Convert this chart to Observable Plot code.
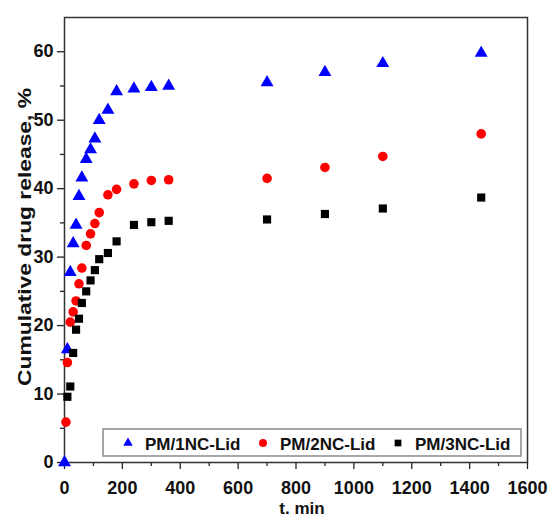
<!DOCTYPE html>
<html>
<head>
<meta charset="utf-8">
<script src="https://cdn.jsdelivr.net/npm/d3@7"></script>
<script src="https://cdn.jsdelivr.net/npm/@observablehq/plot@0.6"></script>
<style>
  html, body { margin: 0; padding: 0; background: #fff; }
  #chart { width: 550px; height: 518px; }
</style>
</head>
<body>
<div id="chart"></div>
<script>
// ---- data ----
const seriesNames = ["PM/1NC-Lid", "PM/2NC-Lid", "PM/3NC-Lid"];

const t1 = [0, 10, 20, 30, 40, 50, 60, 75, 90, 105, 120, 150, 180, 240, 300, 360, 700, 900, 1100, 1440];
const v1 = [0, 16.5, 27.8, 32.0, 34.7, 38.9, 41.6, 44.3, 45.7, 47.3, 50.0, 51.5, 54.2, 54.6, 54.8, 55.0, 55.5, 57.0, 58.3, 59.8];

const t2 = [5, 10, 20, 30, 40, 50, 60, 75, 90, 105, 120, 150, 180, 240, 300, 360, 700, 900, 1100, 1440];
const v2 = [5.9, 14.6, 20.5, 22.0, 23.6, 26.1, 28.4, 31.7, 33.4, 34.9, 36.5, 39.1, 39.9, 40.7, 41.2, 41.3, 41.5, 43.1, 44.7, 48.0];

const t3 = [10, 20, 30, 40, 50, 60, 75, 90, 105, 120, 150, 180, 240, 300, 360, 700, 900, 1100, 1440];
const v3 = [9.6, 11.1, 16.0, 19.4, 21.0, 23.3, 25.0, 26.6, 28.1, 29.7, 30.6, 32.3, 34.7, 35.1, 35.3, 35.5, 36.3, 37.1, 38.7];

const xMajorTicks = [0, 200, 400, 600, 800, 1000, 1200, 1400, 1600];
const xMinorTicks = [100, 300, 500, 700, 900, 1100, 1300, 1500];
const yMajorTicks = [0, 10, 20, 30, 40, 50, 60];
const yMinorTicks = [5, 15, 25, 35, 45, 55];

const xTitle = "t. min";
const yTitle = "Cumulative drug release, %";

// ---- build tables ----
const s1 = t1.map((t, i) => ({t, v: v1[i]}));
const s2 = t2.map((t, i) => ({t, v: v2[i]}));
const s3 = t3.map((t, i) => ({t, v: v3[i]}));

const colors = ["#0000ff", "#ff0000", "#000000"];
const symbols = ["triangle", "circle", "square"];
const font = "'Liberation Sans', Arial, Helvetica, sans-serif";

const chart = Plot.plot({
  width: 550,
  height: 518,
  marginLeft: 64,
  marginRight: 23,
  marginTop: 17,
  marginBottom: 56,
  style: {fontFamily: font, background: "#fff", color: "#111"},
  x: {domain: [0, 1600], label: null},
  y: {domain: [0, 65], label: null},
  marks: [
    Plot.axisX({ticks: xMinorTicks, tickSize: 4, text: null, stroke: "#222", strokeWidth: 1.3, label: null}),
    Plot.axisX({ticks: xMajorTicks, tickSize: 7, tickPadding: 12, tickFormat: d => String(d),
      fontSize: 18, fontWeight: "bold", stroke: "#222", strokeWidth: 1.3, label: null}),
    Plot.axisY({ticks: yMinorTicks, tickSize: 4, text: null, stroke: "#222", strokeWidth: 1.3, label: null}),
    Plot.axisY({ticks: yMajorTicks, tickSize: 7, tickPadding: 4, tickFormat: d => String(d),
      fontSize: 18, fontWeight: "bold", stroke: "#222", strokeWidth: 1.3, label: null}),
    Plot.frame({stroke: "#333", strokeWidth: 1.5}),
    Plot.dot(s1, {x: "t", y: "v", symbol: symbols[0], fill: colors[0], r: 4.8}),
    Plot.dot(s2, {x: "t", y: "v", symbol: symbols[1], fill: colors[1], r: 4.8}),
    Plot.dot(s3, {x: "t", y: "v", symbol: symbols[2], fill: colors[2], r: 4.6})
  ]
});

document.getElementById("chart").appendChild(chart);

// ---- titles and legend ----
const svg = d3.select(chart);
svg.append("text")
  .attr("x", 302).attr("y", 514)
  .attr("text-anchor", "middle")
  .style("font", `bold 17px ${font}`).attr("fill", "#111")
  .text(xTitle);

svg.append("text")
  .attr("transform", "translate(31,237) rotate(-90)")
  .attr("text-anchor", "middle")
  .attr("textLength", 298).attr("lengthAdjust", "spacingAndGlyphs")
  .style("font", `bold 19px ${font}`).attr("fill", "#111")
  .text(yTitle);

const lg = svg.append("g");
lg.append("rect")
  .attr("x", 103).attr("y", 429).attr("width", 418).attr("height", 27)
  .attr("fill", "#fff").attr("stroke", "#8a8a8a").attr("stroke-width", 1.5);

const legX = [128, 263, 398];
const d3sym = [d3.symbolTriangle, d3.symbolCircle, d3.symbolSquare];
const legSize = [40, 50, 45];
seriesNames.forEach((name, i) => {
  lg.append("path")
    .attr("transform", `translate(${legX[i]},${443})`)
    .attr("d", d3.symbol(d3sym[i], legSize[i])())
    .attr("fill", colors[i]);
  lg.append("text")
    .attr("x", legX[i] + 17).attr("y", 450)
    .attr("text-anchor", "start")
    .style("font", `bold 17px ${font}`).attr("fill", "#111")
    .text(name);
});
</script>
</body>
</html>
